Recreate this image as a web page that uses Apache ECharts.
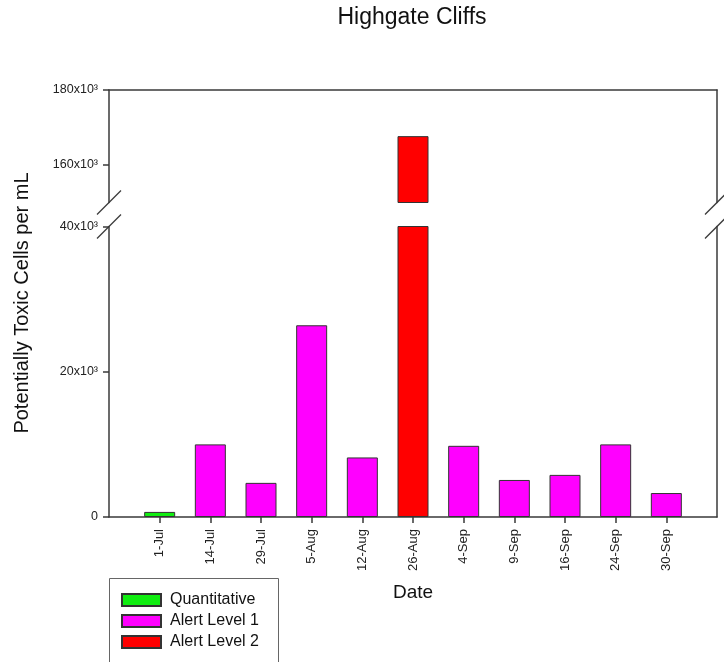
<!DOCTYPE html>
<html>
<head>
<meta charset="utf-8">
<script src="https://cdn.jsdelivr.net/npm/echarts@6/dist/echarts.min.js"></script>
<style>html,body{margin:0;padding:0;background:#fff}#c{width:724px;height:662px}</style>
</head>
<body>
<div id="c"></div>
<script>
// ---- data ----
const dates = ['1-Jul','14-Jul','29-Jul','5-Aug','12-Aug','26-Aug','4-Sep','9-Sep','16-Sep','24-Sep','30-Sep'];
const cellsPerML = [700, 10000, 4700, 26400, 8200, 167700, 9800, 5100, 5800, 10000, 3300];
const levels = ['Quantitative','Alert Level 1','Alert Level 1','Alert Level 1','Alert Level 1','Alert Level 2',
                'Alert Level 1','Alert Level 1','Alert Level 1','Alert Level 1','Alert Level 1'];
const levelNames = ['Quantitative','Alert Level 1','Alert Level 2'];
const lowerTicks = [0, 20000, 40000];
const upperTicks = [160000, 180000];
const lowerRange = [0, 40000];
const upperRange = [150000, 180000];

// ---- styles ----
const FONT = 'Liberation Sans, Arial, Helvetica, sans-serif';
const AX = '#3a3a3a';
const colors = {'Quantitative':'#11ee11','Alert Level 1':'#ff00ff','Alert Level 2':'#ff0000'};

const cats = [''].concat(dates, ['']);
function seriesData(name){
  return ['-'].concat(cellsPerML.map((v,i)=> levels[i]===name ? v : '-'), ['-']);
}
const fmt = v => v === 0 ? '0' : (v/1000) + 'x10³';

const chart = echarts.init(document.getElementById('c'), null, {renderer:'canvas'});

const lineStyle = {color: AX, width: 1.5};
function sideAxis(grid, range, pos){
  return {type:'value', gridIndex:grid, position:pos, min:range[0], max:range[1],
    axisLine:{show:true, onZero:false, lineStyle}, axisTick:{show:false}, axisLabel:{show:false}, splitLine:{show:false}};
}

const series = levelNames.map(n => ({
  name:n, type:'bar', xAxisIndex:0, yAxisIndex:0, barWidth:31, barGap:'-100%',
  data: seriesData(n), clip:true,
  itemStyle:{color:colors[n], borderColor:'#333', borderWidth:1}
}));
series.push({
  name:'Alert Level 2', type:'bar', xAxisIndex:1, yAxisIndex:2, barWidth:31, barGap:'-100%',
  data: seriesData('Alert Level 2'), clip:true,
  itemStyle:{color:colors['Alert Level 2'], borderColor:'#333', borderWidth:1}
});

const option = {
  animation:false,
  backgroundColor:'#fff',
  textStyle:{fontFamily:FONT},
  title:{text:'Highgate Cliffs', left:412, top:6, padding:0, textAlign:'center',
    textStyle:{fontFamily:FONT, fontSize:23, fontWeight:'normal', color:'#111'}},
  legend:{
    data:levelNames, orient:'vertical', left:121, top:592,
    padding:0, itemGap:5, itemWidth:39, itemHeight:12, icon:'rect',
    textStyle:{fontFamily:FONT, fontSize:16, color:'#111', lineHeight:16, padding:[0,0,0,4]}
  },
  grid:[
    {left:109, right:7, top:226.5, height:290.5},
    {left:109, right:7, top:90, height:112.5}
  ],
  xAxis:[
    {type:'category', gridIndex:0, data:cats, boundaryGap:false,
     axisLine:{onZero:false, lineStyle},
     axisTick:{interval:(i)=> i>0 && i<cats.length-1, length:6, lineStyle},
     axisLabel:{interval:0, rotate:90, fontSize:13, margin:12, color:'#222', fontFamily:FONT},
     name:'Date', nameLocation:'middle', nameGap:66,
     nameTextStyle:{fontSize:19, color:'#111', fontFamily:FONT}},
    {type:'category', gridIndex:1, data:cats, boundaryGap:false, position:'top',
     axisLine:{onZero:false, lineStyle}, axisTick:{show:false}, axisLabel:{show:false}}
  ],
  yAxis:[
    {type:'value', gridIndex:0, position:'left', min:lowerRange[0], max:lowerRange[1],
     axisLine:{show:true, onZero:false, lineStyle},
     axisTick:{show:true, length:6, lineStyle, customValues:lowerTicks},
     axisLabel:{customValues:lowerTicks, formatter:fmt, fontSize:12.5, margin:11, color:'#222', fontFamily:FONT},
     splitLine:{show:false}},
    sideAxis(0, lowerRange, 'right'),
    {type:'value', gridIndex:1, position:'left', min:upperRange[0], max:upperRange[1],
     axisLine:{show:true, onZero:false, lineStyle},
     axisTick:{show:true, length:6, lineStyle, customValues:upperTicks},
     axisLabel:{customValues:upperTicks, formatter:fmt, fontSize:12.5, margin:11, color:'#222', fontFamily:FONT},
     splitLine:{show:false}},
    sideAxis(1, upperRange, 'right')
  ],
  series
};
chart.setOption(option);

// axis-break slashes, legend frame and rotated y-axis title
const yTop = chart.convertToPixel({yAxisIndex:2}, upperRange[0]);
const yBot = chart.convertToPixel({yAxisIndex:0}, lowerRange[1]);
const xL = 109, xR = 717, d = 12;
const slash = (cx, cy) => ({type:'line', silent:true,
  shape:{x1:cx-d, y1:cy+d, x2:cx+d, y2:cy-d}, style:{stroke:AX, lineWidth:1.3}});
chart.setOption({graphic:[
  slash(xL, yTop), slash(xL, yBot), slash(xR, yTop), slash(xR, yBot),
  {type:'rect', silent:true, shape:{x:109.5, y:578.5, width:169, height:100},
   style:{fill:'none', stroke:'#666', lineWidth:1}},
  {type:'text', x:22, y:303, rotation:Math.PI/2,
   style:{text:'Potentially Toxic Cells per mL', font:'20px ' + FONT, fill:'#111', align:'center', verticalAlign:'middle'}}
]});
</script>
</body>
</html>
